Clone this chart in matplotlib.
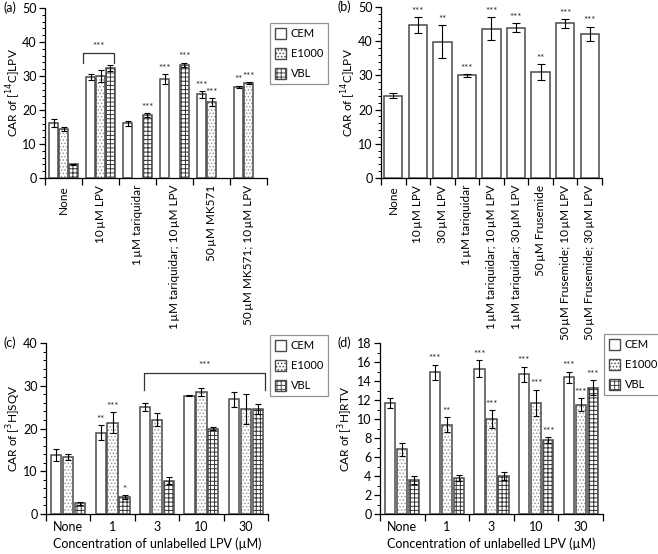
import numpy as np
import matplotlib
matplotlib.use('Agg')
import matplotlib.pyplot as plt
from matplotlib.patches import Patch
from matplotlib.ticker import MultipleLocator

plt.rcParams['font.family'] = ['Lato', 'DejaVu Sans']
plt.rcParams['font.size'] = 8.5
plt.rcParams['axes.linewidth'] = 0.9
plt.rcParams['hatch.linewidth'] = 0.7

series = ['CEM', 'E1000', 'VBL']

# panel (a)
cats_a = ['None', '10\u2009\u00b5M LPV', '1\u2009\u00b5M tariquidar',
          '1\u2009\u00b5M tariquidar; 10\u2009\u00b5M LPV', '50\u2009\u00b5M MK571',
          '50\u2009\u00b5M MK571; 10\u2009\u00b5M LPV']
cem_a = [16.3, 29.7, 16.1, 29.1, 24.6, 26.8]
cem_a_err = [1.2, 0.8, 0.8, 1.5, 1.0, 0.4]
e1000_a = [14.3, 30.1, None, None, 22.3, 27.9]
e1000_a_err = [0.6, 1.8, 0, 0, 1.2, 0.3]
vbl_a = [4.0, 32.3, 18.4, 33.3, None, None]
vbl_a_err = [0.2, 0.9, 0.6, 0.6, 0, 0]
stars_a = [['', '', ''], ['', '', ''], ['', '', '***'], ['***', '', '***'],
           ['***', '***', ''], ['**', '***', '']]

# panel (b)
cats_b = ['None', '10\u2009\u00b5M LPV', '30\u2009\u00b5M LPV', '1\u2009\u00b5M tariquidar',
          '1\u2009\u00b5M tariquidar; 10\u2009\u00b5M LPV',
          '1\u2009\u00b5M tariquidar; 30\u2009\u00b5M LPV', '50\u2009\u00b5M Frusemide',
          '50\u2009\u00b5M Frusemide; 10\u2009\u00b5M LPV',
          '50\u2009\u00b5M Frusemide; 30\u2009\u00b5M LPV']
vals_b = [24.1, 44.8, 39.8, 30.0, 43.7, 44.0, 31.0, 45.2, 42.2]
err_b = [0.7, 2.3, 4.8, 0.4, 3.4, 1.3, 2.3, 1.3, 2.0]
stars_b = ['', '***', '**', '***', '***', '***', '**', '***', '***']

# panels (c) and (d)
conc = ['None', '1', '3', '10', '30']
cem_c = [13.9, 19.0, 25.1, 27.7, 26.8]
cem_c_err = [1.4, 1.8, 0.9, 0.2, 1.7]
e1000_c = [13.4, 21.4, 22.1, 28.6, 24.5]
e1000_c_err = [0.7, 2.5, 1.5, 0.9, 3.5]
vbl_c = [2.5, 3.9, 7.8, 20.0, 24.6]
vbl_c_err = [0.3, 0.5, 0.8, 0.4, 1.2]
stars_c = [['', '', ''], ['**', '***', '*'], ['', '', ''], ['', '', ''], ['', '', '']]

cem_d = [11.7, 14.9, 15.3, 14.7, 14.4]
cem_d_err = [0.5, 0.8, 0.9, 0.8, 0.6]
e1000_d = [6.8, 9.4, 10.0, 11.7, 11.5]
e1000_d_err = [0.7, 0.8, 0.9, 1.4, 0.7]
vbl_d = [3.6, 3.8, 4.0, 7.8, 13.3]
vbl_d_err = [0.4, 0.3, 0.4, 0.3, 0.8]
stars_d = [['', '', ''], ['***', '**', ''], ['***', '***', ''], ['***', '***', '***'],
           ['***', '***', '***']]

EDGE = '#4a4a4a'
HATCHES = [None, '.....', '++++']
HCOL = ['#888888', '#999999', '#333333']


def draw_bar(ax, x, h, err, w, kind, star, ystep):
    if h is None:
        return
    if HATCHES[kind]:
        ax.bar(x, h, w, color='white', edgecolor=HCOL[kind], hatch=HATCHES[kind], lw=0, zorder=2)
    ax.bar(x, h, w, facecolor='none', edgecolor=EDGE, lw=1.1, zorder=3)
    ax.errorbar(x, h, yerr=err, fmt='none', ecolor='black', elinewidth=0.8,
                capsize=2.5, capthick=0.8, zorder=4)
    if star:
        ax.text(x, h + err + ystep, star, ha='center', va='bottom', fontsize=7,
                color='#222222')


def style(ax, n, ymax, major, minor, label, labx):
    ax.spines['top'].set_visible(False)
    ax.spines['right'].set_visible(False)
    ax.set_xlim(-0.5, n - 0.5)
    ax.set_ylim(0, ymax)
    ax.yaxis.set_major_locator(MultipleLocator(major))
    ax.yaxis.set_minor_locator(MultipleLocator(minor))
    ax.set_xticks(np.arange(n + 1) - 0.5, minor=True)
    ax.tick_params(axis='x', which='minor', length=5, width=0.9)
    ax.tick_params(axis='x', which='major', length=0, pad=5)
    ax.tick_params(axis='y', which='major', length=4, width=0.9, labelsize=9, pad=2)
    ax.tick_params(axis='y', which='minor', length=2.5, width=0.7)
    ax.set_xticks(np.arange(n))
    ax.set_ylabel(label, fontsize=8.5, va='center')
    ax.yaxis.set_label_coords(labx, 0.5)


def grouped(ax, data, errs, stars, w, sp, ystep):
    for k in range(3):
        for i in range(len(data[k])):
            draw_bar(ax, i + (k - 1) * sp, data[k][i], errs[k][i], w, k, stars[i][k], ystep)


def legend(fig, x, y):
    handles = [Patch(facecolor='white', edgecolor=EDGE, hatch=HATCHES[k], label=series[k])
               for k in range(3)]
    leg = fig.legend(handles=handles, loc='upper left', bbox_to_anchor=(x / 658, 1 - y / 554),
                     frameon=True, fancybox=False, edgecolor='#777777', fontsize=8,
                     handlelength=1.0, handleheight=1.1, labelspacing=0.8,
                     borderpad=0.45, handletextpad=0.4, borderaxespad=0)
    leg.get_frame().set_linewidth(0.9)


fig = plt.figure(figsize=(6.58, 5.54), dpi=100)

# (a)
ax = fig.add_axes([45 / 658, 1 - 178 / 554, 222 / 658, 170 / 554])
grouped(ax, [cem_a, e1000_a, vbl_a], [cem_a_err, e1000_a_err, vbl_a_err], stars_a,
        0.23, 0.27, 0.4)
style(ax, len(cats_a), 50, 10, 2, 'CAR of [$^{14}$C]LPV', -0.14)
ax.set_xticklabels(cats_a, rotation=90)
ax.plot([0.52, 0.52, 1.36, 1.36], [33.8, 36.8, 36.8, 33.8], color='#333333', lw=0.9)
ax.text(0.94, 37.4, '***', ha='center', va='bottom', fontsize=7, color='#222222')
fig.text(4 / 658, 1 - 8 / 554, '(a)', ha='left', va='center', fontsize=9)
legend(fig, 270, 23)

# (b)
ax = fig.add_axes([381 / 658, 1 - 178 / 554, 221 / 658, 171 / 554])
for i in range(len(vals_b)):
    ax.bar(i, vals_b[i], 0.75, facecolor='white', edgecolor=EDGE, lw=1.1, zorder=3)
    ax.errorbar(i, vals_b[i], yerr=err_b[i], fmt='none', ecolor='black', elinewidth=0.8,
                capsize=3, capthick=0.8, zorder=4)
    if stars_b[i]:
        ax.text(i, vals_b[i] + err_b[i] + 0.4, stars_b[i], ha='center', va='bottom',
                fontsize=7, color='#222222')
style(ax, len(cats_b), 50, 10, 2, 'CAR of [$^{14}$C]LPV', -0.145)
ax.set_xticklabels(cats_b, rotation=90)
fig.text(337 / 658, 1 - 7 / 554, '(b)', ha='left', va='center', fontsize=9)

# (c)
ax = fig.add_axes([46 / 658, 1 - 514 / 554, 222 / 658, 171 / 554])
grouped(ax, [cem_c, e1000_c, vbl_c], [cem_c_err, e1000_c_err, vbl_c_err], stars_c,
        0.23, 0.27, 0.3)
style(ax, len(conc), 40, 10, 2, 'CAR of [$^{3}$H]SQV', -0.145)
ax.set_xticklabels(conc, fontsize=9)
ax.set_xlabel('Concentration of unlabelled LPV (\u00b5M)', fontsize=9, labelpad=3)
ax.plot([1.71, 1.71, 4.43, 4.43], [29, 33, 33, 29], color='#333333', lw=0.9)
ax.text(3.07, 33.6, '***', ha='center', va='bottom', fontsize=7, color='#222222')
fig.text(4 / 658, 1 - 343 / 554, '(c)', ha='left', va='center', fontsize=9)
legend(fig, 270, 335)

# (d)
ax = fig.add_axes([380 / 658, 1 - 514 / 554, 223 / 658, 171 / 554])
grouped(ax, [cem_d, e1000_d, vbl_d], [cem_d_err, e1000_d_err, vbl_d_err], stars_d,
        0.23, 0.27, 0.15)
style(ax, len(conc), 18, 2, 1, 'CAR of [$^{3}$H]RTV', -0.155)
ax.set_xticklabels(conc, fontsize=9)
ax.set_xlabel('Concentration of unlabelled LPV (\u00b5M)', fontsize=9, labelpad=3)
fig.text(337 / 658, 1 - 343 / 554, '(d)', ha='left', va='center', fontsize=9)
legend(fig, 604, 334)

fig.savefig('out.png', dpi=100)
